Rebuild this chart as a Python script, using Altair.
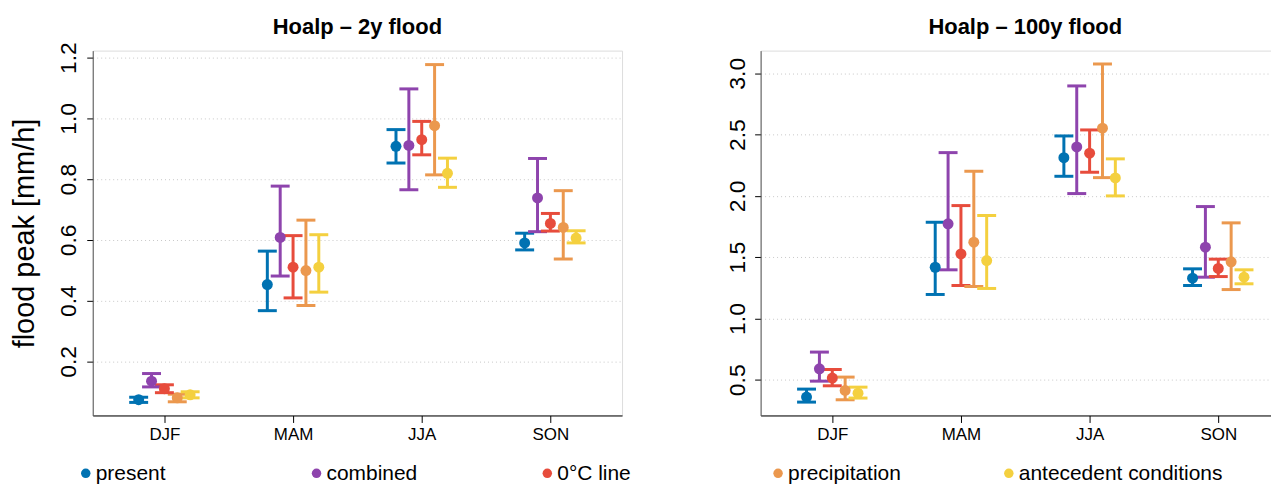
import json
import altair as alt
import pandas as pd

seasons = ["DJF", "MAM", "JJA", "SON"]
scenarios = ["present", "combined", "0°C line", "precipitation", "antecedent conditions"]
colors = ["#0072B2", "#8E44AD", "#E74C3C", "#EB984E", "#F4D03F"]

# 2-year flood: one row per scenario (order above), one column per season
mid_2y = [
    [0.074, 0.453, 0.908, 0.590],
    [0.135, 0.608, 0.911, 0.738],
    [0.110, 0.510, 0.930, 0.654],
    [0.080, 0.499, 0.976, 0.641],
    [0.090, 0.510, 0.819, 0.606],
]
lo_2y = [
    [0.065, 0.367, 0.853, 0.567],
    [0.116, 0.481, 0.765, 0.627],
    [0.097, 0.409, 0.880, 0.629],
    [0.067, 0.384, 0.814, 0.537],
    [0.080, 0.428, 0.773, 0.590],
]
hi_2y = [
    [0.082, 0.563, 0.963, 0.622],
    [0.160, 0.777, 1.097, 0.868],
    [0.123, 0.614, 0.990, 0.687],
    [0.092, 0.665, 1.177, 0.762],
    [0.100, 0.617, 0.869, 0.630],
]

# 100-year flood
mid_100y = [
    [0.359, 1.418, 2.312, 1.329],
    [0.590, 1.772, 2.399, 1.582],
    [0.514, 1.527, 2.348, 1.408],
    [0.413, 1.622, 2.552, 1.462],
    [0.391, 1.473, 2.147, 1.337],
]
lo_100y = [
    [0.318, 1.196, 2.160, 1.269],
    [0.489, 1.397, 2.019, 1.337],
    [0.451, 1.269, 2.193, 1.342],
    [0.337, 1.261, 2.149, 1.236],
    [0.351, 1.245, 2.000, 1.283],
]
hi_100y = [
    [0.424, 1.785, 2.489, 1.405],
    [0.726, 2.353, 2.897, 1.913],
    [0.584, 1.921, 2.538, 1.484],
    [0.522, 2.201, 3.076, 1.780],
    [0.440, 1.840, 2.302, 1.397],
]

y_ticks_2y = [0.2, 0.4, 0.6, 0.8, 1.0, 1.2]
y_ticks_100y = [0.5, 1.0, 1.5, 2.0, 2.5, 3.0]

FONT = "Liberation Sans"
PANEL_H = 366
PANEL_W = 531


def make_df(mid, lo, hi):
    rows = []
    for ci, sc in enumerate(scenarios):
        for si, se in enumerate(seasons):
            rows.append(dict(scenario=sc, ci=ci, season=se, si=si + 1,
                             mid=mid[ci][si], lo=lo[ci][si], hi=hi[ci][si]))
    return pd.DataFrame(rows)


label_expr = json.dumps(seasons) + "[datum.value - 1]"
col_scale = alt.Scale(domain=scenarios, range=colors)


def panel(df, title, ydom, yticks, ytitle, title_offset, lab_pad):
    base = alt.Chart(df).transform_calculate(xpos="datum.si + (datum.ci - 2) * 0.1")
    xs = alt.Scale(domain=[0.443, 4.557], nice=False, zero=False)
    ys = alt.Scale(domain=ydom, nice=False, zero=False)

    x_axis = alt.Axis(values=[1, 2, 3, 4], labelExpr=label_expr, title=None, grid=False,
                      tickSize=7, tickColor="black", domainColor="black",
                      labelFontSize=17, labelPadding=4, labelColor="black", labelFont=FONT)
    y_kwargs = dict(values=yticks, format=".1f", labelAngle=270, labelAlign="center",
                    labelBaseline="alphabetic", labelFontSize=23, labelColor="black",
                    labelFont=FONT, tickSize=6, tickColor="black", labelPadding=lab_pad,
                    grid=True, gridDash=[1, 3], gridColor="#c8c8c8", domainColor="#555555")
    if ytitle:
        y_axis = alt.Axis(title=ytitle, titleAngle=270, titleAlign="center",
                          titleBaseline="alphabetic", titleFontSize=29, titleFontWeight="normal",
                          titleColor="black", titleFont=FONT, titleX=-59, titleY=PANEL_H / 2,
                          **y_kwargs)
    else:
        y_axis = alt.Axis(title=None, **y_kwargs)

    color = alt.Color("scenario:N", scale=col_scale, legend=None)
    stems = base.mark_rule(strokeWidth=3).encode(
        x=alt.X("xpos:Q", scale=xs, axis=x_axis),
        y=alt.Y("lo:Q", scale=ys, axis=y_axis),
        y2="hi:Q",
        color=color,
    )
    caps_hi = base.mark_rule(strokeWidth=3, xOffset=-9.5, x2Offset=9.5).encode(
        x="xpos:Q", x2="xpos:Q", y="hi:Q", color=color,
    )
    caps_lo = base.mark_rule(strokeWidth=3, xOffset=-9.5, x2Offset=9.5).encode(
        x="xpos:Q", x2="xpos:Q", y="lo:Q", color=color,
    )
    pts = base.mark_circle(size=121, opacity=1).encode(
        x="xpos:Q", y="mid:Q", color=color,
    )
    return alt.layer(stems, caps_hi, caps_lo, pts).properties(
        width=PANEL_W, height=PANEL_H,
        title=alt.TitleParams(title, fontSize=22, fontWeight="bold", font=FONT, color="black",
                              anchor="middle", frame="group", baseline="alphabetic",
                              offset=title_offset),
    )


left = panel(make_df(mid_2y, lo_2y, hi_2y), "Hoalp – 2y flood", [0.022, 1.223], y_ticks_2y,
             "flood peak [mm/h]", -14, 11)
right = panel(make_df(mid_100y, lo_100y, hi_100y), "Hoalp – 100y flood", [0.209, 3.185],
              y_ticks_100y, None, -5, 10)

# legend row drawn from the scenario list
leg_df = pd.DataFrame({"scenario": scenarios, "ci": list(range(len(scenarios)))})
leg_x = alt.X("ci:Q", scale=alt.Scale(domain=[0.0302, 5.1274], nice=False, zero=False),
              axis=None)
leg_base = alt.Chart(leg_df)
leg_pts = leg_base.mark_circle(size=90, opacity=1).encode(
    x=leg_x, y=alt.value(11), color=alt.Color("scenario:N", scale=col_scale, legend=None)
)
leg_txt = leg_base.mark_text(align="left", baseline="middle", dx=10, fontSize=21,
                             font=FONT, color="black").encode(
    x=leg_x, y=alt.value(12), text="scenario:N"
)
legend = alt.layer(leg_pts, leg_txt).properties(
    width=1180, height=22, view=alt.ViewBackground(stroke="transparent")
)

top_row = alt.hconcat(left, right, spacing=139, bounds="flush")
chart = alt.vconcat(top_row, legend, spacing=18).properties(
    padding={"left": 2, "top": 6, "right": -20, "bottom": 1}
).configure_view(stroke="#444444").configure(font=FONT)

chart.save("out.html", embed_options={"renderer": "svg", "actions": False})
